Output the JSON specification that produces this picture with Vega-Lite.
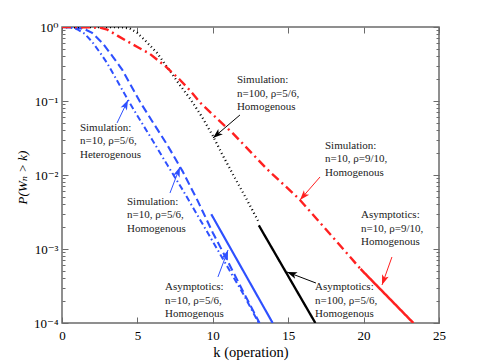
{
  "$schema": "https://vega.github.io/schema/vega-lite/v6.json",
  "width": 377,
  "height": 296,
  "autosize": {"type": "none"},
  "padding": {"left": 62, "top": 27, "right": 46, "bottom": 41},
  "background": "white",
  "config": {
    "view": {"stroke": "#6b6b6b", "strokeWidth": 1.5},
    "font": "'Liberation Serif', 'Times New Roman', 'DejaVu Serif', serif",
    "axis": {"domain": false, "grid": false, "tickColor": "#6b6b6b", "tickWidth": 1, "labelColor": "#000000", "labelFont": "'Liberation Serif', 'Times New Roman', 'DejaVu Serif', serif", "titleFont": "'Liberation Serif', 'Times New Roman', 'DejaVu Serif', serif", "titleColor": "#000000", "titleFontWeight": "normal", "labelFlush": false, "labelOverlap": false}
  },
  "datasets": {
    "curves": [
      {"s": "sim_het", "k": 0, "p": 1}, {"s": "sim_het", "k": 0.5, "p": 0.989}, {"s": "sim_het", "k": 1, "p": 0.933}, {"s": "sim_het", "k": 1.5, "p": 0.813}, {"s": "sim_het", "k": 2, "p": 0.631}, {"s": "sim_het", "k": 2.5, "p": 0.457}, {"s": "sim_het", "k": 3, "p": 0.324}, {"s": "sim_het", "k": 3.5, "p": 0.214}, {"s": "sim_het", "k": 4, "p": 0.141}, {"s": "sim_het", "k": 4.5, "p": 0.0933}, {"s": "sim_het", "k": 5, "p": 0.0631}, {"s": "sim_het", "k": 6, "p": 0.0295}, {"s": "sim_het", "k": 7, "p": 0.0135}, {"s": "sim_het", "k": 8, "p": 0.00631}, {"s": "sim_het", "k": 9, "p": 0.00282}, {"s": "sim_het", "k": 10, "p": 0.00126}, {"s": "sim_het", "k": 11, "p": 0.000562}, {"s": "sim_het", "k": 12, "p": 0.000251}, {"s": "sim_het", "k": 13.05, "p": 0.0001},
      {"s": "sim_n10", "k": 0, "p": 1}, {"s": "sim_n10", "k": 1, "p": 0.977}, {"s": "sim_n10", "k": 1.5, "p": 0.933}, {"s": "sim_n10", "k": 2, "p": 0.832}, {"s": "sim_n10", "k": 2.7, "p": 0.603}, {"s": "sim_n10", "k": 3.4, "p": 0.389}, {"s": "sim_n10", "k": 4, "p": 0.263}, {"s": "sim_n10", "k": 4.6, "p": 0.158}, {"s": "sim_n10", "k": 5.2, "p": 0.0955}, {"s": "sim_n10", "k": 6, "p": 0.0525}, {"s": "sim_n10", "k": 7, "p": 0.0251}, {"s": "sim_n10", "k": 8, "p": 0.0112}, {"s": "sim_n10", "k": 9, "p": 0.00447}, {"s": "sim_n10", "k": 10, "p": 0.00166}, {"s": "sim_n10", "k": 11, "p": 0.000676}, {"s": "sim_n10", "k": 12, "p": 0.000269}, {"s": "sim_n10", "k": 13.1, "p": 0.0001},
      {"s": "asy_n10", "k": 9.9, "p": 0.00295}, {"s": "asy_n10", "k": 13.97, "p": 0.0001},
      {"s": "sim_n100", "k": 0, "p": 1}, {"s": "sim_n100", "k": 3, "p": 0.999}, {"s": "sim_n100", "k": 4, "p": 0.989}, {"s": "sim_n100", "k": 4.5, "p": 0.955}, {"s": "sim_n100", "k": 5, "p": 0.832}, {"s": "sim_n100", "k": 5.5, "p": 0.661}, {"s": "sim_n100", "k": 6.3, "p": 0.447}, {"s": "sim_n100", "k": 7, "p": 0.282}, {"s": "sim_n100", "k": 7.8, "p": 0.166}, {"s": "sim_n100", "k": 8.5, "p": 0.107}, {"s": "sim_n100", "k": 9.3, "p": 0.0603}, {"s": "sim_n100", "k": 10, "p": 0.0339}, {"s": "sim_n100", "k": 10.65, "p": 0.0186}, {"s": "sim_n100", "k": 11.3, "p": 0.0105}, {"s": "sim_n100", "k": 12.25, "p": 0.00468}, {"s": "sim_n100", "k": 13, "p": 0.0024},
      {"s": "asy_n100", "k": 13.05, "p": 0.00209}, {"s": "asy_n100", "k": 16.8, "p": 0.0001},
      {"s": "sim_910", "k": 0, "p": 1}, {"s": "sim_910", "k": 1.5, "p": 0.993}, {"s": "sim_910", "k": 2.5, "p": 0.982}, {"s": "sim_910", "k": 3, "p": 0.923}, {"s": "sim_910", "k": 3.7, "p": 0.759}, {"s": "sim_910", "k": 4.3, "p": 0.646}, {"s": "sim_910", "k": 5, "p": 0.537}, {"s": "sim_910", "k": 5.8, "p": 0.437}, {"s": "sim_910", "k": 6.8, "p": 0.302}, {"s": "sim_910", "k": 7.8, "p": 0.195}, {"s": "sim_910", "k": 8.5, "p": 0.138}, {"s": "sim_910", "k": 9.2, "p": 0.0933}, {"s": "sim_910", "k": 10.6, "p": 0.0501}, {"s": "sim_910", "k": 11.3, "p": 0.0372}, {"s": "sim_910", "k": 13.6, "p": 0.012}, {"s": "sim_910", "k": 15.7, "p": 0.00479}, {"s": "sim_910", "k": 17.7, "p": 0.00166}, {"s": "sim_910", "k": 19.8, "p": 0.000537},
      {"s": "asy_910", "k": 19.8, "p": 0.000537}, {"s": "asy_910", "k": 23.3, "p": 0.0001}
    ],
    "arrows": [
      {"g": "n100", "k": 11.8, "p": 0.0647, "k2": 10.01, "p2": 0.0316, "angle": -130.4},
      {"g": "n10", "k": 3.65, "p": 0.0505, "k2": 4.38, "p2": 0.1032, "angle": 25.6},
      {"g": "n10", "k": 7.16, "p": 0.00571, "k2": 7.82, "p2": 0.0128, "angle": 21},
      {"g": "r910", "k": 17.11, "p": 0.0094, "k2": 15.78, "p2": 0.00459, "angle": -139},
      {"g": "r910", "k": 21.88, "p": 0.00078, "k2": 21.22, "p2": 0.000327, "angle": -160.3},
      {"g": "n100", "k": 16.84, "p": 0.000347, "k2": 14.92, "p2": 0.000489, "angle": -69.2},
      {"g": "n10", "k": 10.34, "p": 0.000419, "k2": 11.01, "p2": 0.000968, "angle": 20.3}
    ],
    "labels": [
      {"k": 11.6, "p": 0.192, "t": "Simulation:\nn=100, ρ=5/6,\nHomogenous"},
      {"k": 1.19, "p": 0.0432, "t": "Simulation:\nn=10, ρ=5/6,\nHeterogenous"},
      {"k": 4.31, "p": 0.00432, "t": "Simulation:\nn=10, ρ=5/6,\nHomogenous"},
      {"k": 17.44, "p": 0.0247, "t": "Simulation:\nn=10, ρ=9/10,\nHomogenous"},
      {"k": 19.83, "p": 0.00288, "t": "Asymptotics:\nn=10, ρ=9/10,\nHomogenous"},
      {"k": 16.78, "p": 0.000306, "t": "Asymptotics:\nn=100, ρ=5/6,\nHomogenous"},
      {"k": 6.83, "p": 0.000306, "t": "Asymptotics:\nn=10, ρ=5/6,\nHomogenous"}
    ]
  },
  "layer": [
    {
      "data": {"name": "curves"},
      "mark": {"type": "line", "clip": true},
      "encoding": {
        "x": {"field": "k", "type": "quantitative", "scale": {"domain": [0, 25], "nice": false, "zero": false},
          "axis": {"orient": "bottom", "values": [0, 5, 10, 15, 20, 25], "tickSize": -6, "labelPadding": 12, "labelFontSize": 13, "title": "k (operation)", "titleFontSize": 14.5, "titleX": 188.5, "titleY": 29, "titleBaseline": "middle", "titleAlign": "center"}},
        "y": {"field": "p", "type": "quantitative", "scale": {"type": "log", "domain": [0.0001, 1], "nice": false},
          "axis": {"orient": "left", "values": [0.0001, 0.001, 0.01, 0.1, 1], "tickSize": -6, "labelPadding": 10, "labelFontSize": 13, "labelExpr": "datum.value >= 0.5 ? '10⁰' : datum.value >= 0.05 ? '10⁻¹' : datum.value >= 0.005 ? '10⁻²' : datum.value >= 0.0005 ? '10⁻³' : '10⁻⁴'", "title": "P(Wₙ > k)", "titleFontStyle": "italic", "titleFontSize": 13, "titleX": -40, "titleY": 150, "titleBaseline": "middle", "titleAlign": "center", "titleAngle": -90}},
        "color": {"field": "s", "type": "nominal", "legend": null, "scale": {"domain": ["sim_het", "sim_n10", "asy_n10", "sim_n100", "asy_n100", "sim_910", "asy_910"], "range": ["#2e50ff", "#2e50ff", "#2e50ff", "#000000", "#000000", "#ff2020", "#ff2020"]}},
        "strokeDash": {"field": "s", "type": "nominal", "legend": null, "scale": {"domain": ["sim_het", "sim_n10", "asy_n10", "sim_n100", "asy_n100", "sim_910", "asy_910"], "range": [[6, 3, 1.5, 3], [8, 4], [1, 0], [1, 3], [1, 0], [9, 4, 2, 4], [1, 0]]}},
        "strokeWidth": {"field": "s", "type": "nominal", "legend": null, "scale": {"domain": ["sim_het", "sim_n10", "asy_n10", "sim_n100", "asy_n100", "sim_910", "asy_910"], "range": [2, 2.5, 2.5, 1.2, 2.5, 2.5, 2.5]}}
      }
    },
    {
      "data": {"name": "arrows"},
      "mark": {"type": "rule", "strokeWidth": 1},
      "encoding": {
        "x": {"field": "k", "type": "quantitative", "scale": {"domain": [0, 25], "nice": false, "zero": false},
          "axis": {"orient": "top", "values": [0, 5, 10, 15, 20, 25], "tickSize": -6, "labels": false, "title": null}},
        "y": {"field": "p", "type": "quantitative", "scale": {"type": "log", "domain": [0.0001, 1], "nice": false},
          "axis": {"orient": "right", "values": [0.0001, 0.001, 0.01, 0.1, 1], "tickSize": -6, "labels": false, "title": null}},
        "x2": {"field": "k2"},
        "y2": {"field": "p2"},
        "color": {"field": "g", "type": "nominal", "legend": null, "scale": {"domain": ["n10", "n100", "r910"], "range": ["#2e50ff", "#000000", "#ff2020"]}}
      }
    },
    {
      "data": {"name": "arrows"},
      "mark": {"type": "point", "shape": "M0,0L-0.7,2L0,1.5L0.7,2Z", "filled": true, "size": 100, "opacity": 1},
      "encoding": {
        "x": {"field": "k2", "type": "quantitative", "scale": {"domain": [0, 25], "nice": false, "zero": false}, "axis": null},
        "y": {"field": "p2", "type": "quantitative", "scale": {"type": "log", "domain": [0.0001, 1], "nice": false},
          "axis": {"orient": "left", "values": [0.0002, 0.0003, 0.0004, 0.0005, 0.0006, 0.0007, 0.0008, 0.0009, 0.002, 0.003, 0.004, 0.005, 0.006, 0.007, 0.008, 0.009, 0.02, 0.03, 0.04, 0.05, 0.06, 0.07, 0.08, 0.09, 0.2, 0.3, 0.4, 0.5, 0.6, 0.7, 0.8, 0.9], "tickSize": -3, "labels": false, "title": null}},
        "angle": {"field": "angle", "type": "quantitative", "scale": null},
        "color": {"field": "g", "type": "nominal", "legend": null, "scale": {"domain": ["n10", "n100", "r910"], "range": ["#2e50ff", "#000000", "#ff2020"]}}
      }
    },
    {
      "data": {"name": "labels"},
      "mark": {"type": "text", "align": "left", "baseline": "middle", "lineBreak": "\n", "fontSize": 11, "lineHeight": 13.5, "font": "'Liberation Serif', 'Times New Roman', 'DejaVu Serif', serif", "color": "#222222"},
      "encoding": {
        "x": {"field": "k", "type": "quantitative", "scale": {"domain": [0, 25], "nice": false, "zero": false}, "axis": null},
        "y": {"field": "p", "type": "quantitative", "scale": {"type": "log", "domain": [0.0001, 1], "nice": false},
          "axis": {"orient": "right", "values": [0.0002, 0.0003, 0.0004, 0.0005, 0.0006, 0.0007, 0.0008, 0.0009, 0.002, 0.003, 0.004, 0.005, 0.006, 0.007, 0.008, 0.009, 0.02, 0.03, 0.04, 0.05, 0.06, 0.07, 0.08, 0.09, 0.2, 0.3, 0.4, 0.5, 0.6, 0.7, 0.8, 0.9], "tickSize": -3, "labels": false, "title": null}},
        "text": {"field": "t", "type": "nominal"}
      }
    }
  ],
  "resolve": {"axis": {"x": "independent", "y": "independent"}, "scale": {"color": "independent"}}
}
